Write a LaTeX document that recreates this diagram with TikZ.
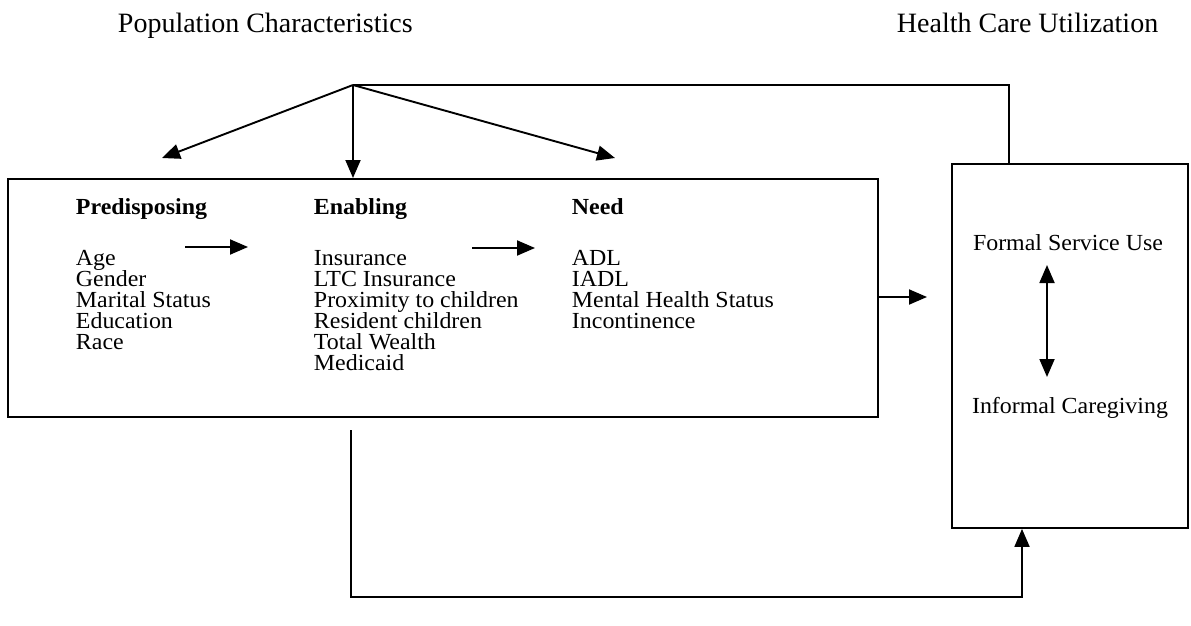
\documentclass[tikz,border=0pt]{standalone}
\usepackage{fontspec}
\setmainfont{Liberation Serif}
\newfontfamily\bodyfont[FakeStretch=1.04]{Liberation Serif}
\usetikzlibrary{arrows.meta,calc}
\begin{document}
\begin{tikzpicture}[x=1pt,y=-1pt,
  line width=1.9pt,
  arr/.style={-{Triangle[length=18pt,width=15pt]}},
  darr/.style={{Triangle[length=18pt,width=15pt]}-{Triangle[length=18pt,width=15pt]}},
  boxed/.style={draw,anchor=north west,inner sep=0pt},
  title/.style={font=\fontsize{28}{28}\selectfont,inner sep=0pt,anchor=base west},
  body/.style={font=\bodyfont\fontsize{23}{21}\selectfont,inner sep=0pt,align=left,anchor=north west},
  head/.style={font=\bodyfont\fontsize{23}{21}\selectfont\bfseries,inner sep=0pt,anchor=base west},
  lbl/.style={font=\bodyfont\fontsize{23}{21}\selectfont,inner sep=0pt}]
\useasboundingbox (0,0) rectangle (1191,626);

% titles
\node[title] (tpop) at (117,33) {Population Characteristics};
\node[title] (thcu) at (896,33) {Health Care Utilization};

% boxes
\node[boxed,minimum width=870pt,minimum height=238pt] (pop) at (7,178) {};
\node[boxed,minimum width=236pt,minimum height=364pt] (hcu) at (951,163) {};

% column headings
\node[head] (hpre) at (75,214) {Predisposing};
\node[head] (hena) at (313,214) {Enabling};
\node[head] (hnee) at (571,214) {Need};

% column contents
\node[body] (cpre) at (75,249) {Age\\Gender\\Marital Status\\Education\\Race};
\node[body] (cena) at (313,249) {Insurance\\LTC Insurance\\Proximity to children\\Resident children\\Total Wealth\\Medicaid};
\node[body] (cnee) at (571,249) {ADL\\IADL\\Mental Health Status\\Incontinence};

% right box labels
\node[lbl] (fsu) at (1068,243) {Formal Service Use};
\node[lbl] (icg) at (1070,408) {Informal Caregiving};

% coordinates
\coordinate (apex) at (353,85);
\coordinate (tr) at (1009,85);
\coordinate (tipL) at (162,158);
\coordinate (tipR) at (615,158);
\coordinate (a1s) at (185,247);
\coordinate (a1e) at (248,247);
\coordinate (a2s) at (472,248);
\coordinate (a2e) at (535,248);
\coordinate (m) at (927,297);
\coordinate (d1) at (1047,265);
\coordinate (d2) at (1047,377);
\coordinate (b0) at (351,430);
\coordinate (b1) at (1022,597);

% fan and feedback at top
\draw[arr] (apex) -- (tipL);
\draw[arr] (apex) -- (apex |- pop.north);
\draw[arr] (apex) -- (tipR);
\draw (apex) -| (tr |- hcu.north);

% arrows inside left box
\draw[arr] (a1s) -- (a1e);
\draw[arr] (a2s) -- (a2e);

% left box to right box
\draw[arr] (pop.east |- m) -- (m);

% double arrow
\draw[darr] (d1) -- (d2);

% bottom feedback
\draw[arr] (b0) |- (b1) -- (b1 |- hcu.south);
\end{tikzpicture}
\end{document}
